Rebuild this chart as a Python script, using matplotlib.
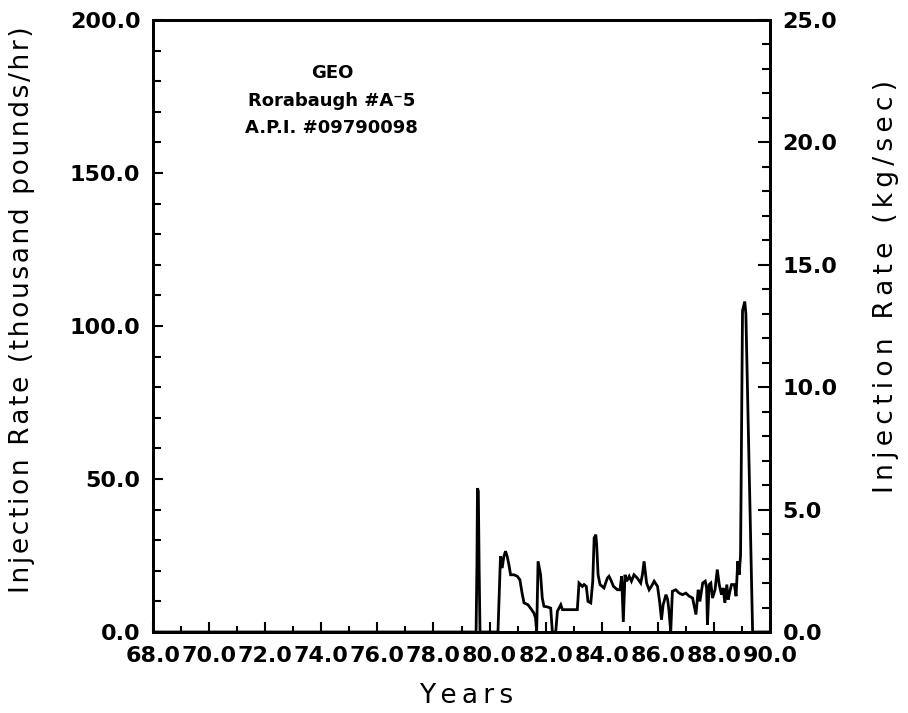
import matplotlib
matplotlib.use("Agg")
import matplotlib.pyplot as plt
from matplotlib.ticker import MultipleLocator, FormatStrFormatter

# Data: year (19xx) and injection rate (thousand pounds/hr)
years = [68.0, 79.52, 79.55, 79.57, 79.60, 79.63, 79.66, 80.30, 80.39, 80.45, 80.51, 80.57,
         80.63, 80.69, 80.75, 80.87, 80.99, 81.08, 81.17, 81.23, 81.37, 81.46, 81.58,
         81.64, 81.68, 81.73, 81.82, 81.88, 81.94, 82.06, 82.18, 82.24, 82.36, 82.42,
         82.54, 82.60, 83.13, 83.19, 83.31, 83.37, 83.45, 83.51, 83.61, 83.68, 83.73,
         83.79, 83.82, 83.87, 83.94, 84.08, 84.20, 84.26, 84.32, 84.42, 84.56, 84.65,
         84.71, 84.77, 84.83, 84.89, 84.98, 85.06, 85.15, 85.27, 85.39, 85.45, 85.51,
         85.60, 85.69, 85.77, 85.87, 85.99, 86.07, 86.13, 86.19, 86.29, 86.35, 86.40,
         86.46, 86.52, 86.64, 86.76, 86.88, 87.00, 87.12, 87.24, 87.36, 87.44, 87.50,
         87.60, 87.69, 87.74, 87.77, 87.83, 87.89, 87.95, 88.04, 88.12, 88.19, 88.27,
         88.33, 88.39, 88.46, 88.51, 88.57, 88.63, 88.73, 88.79, 88.85, 88.90, 88.95,
         89.02, 89.10, 89.14, 89.38, 90.0]
rates = [0.0, 0.0, 22.0, 47.0, 46.0, 20.0, 0.0, 0.0, 24.7, 20.9, 24.7, 26.4,
         24.7, 22.0, 18.7, 18.7, 18.2, 17.1, 12.2, 9.5, 8.9, 7.8, 6.2,
         4.6, 0.0, 23.1, 18.7, 11.1, 8.4, 8.2, 7.8, 0.0, 0.0, 6.8,
         8.9, 7.3, 7.3, 16.0, 14.9, 15.5, 14.9, 10.0, 9.5, 16.6, 30.7,
         31.8, 28.5, 18.7, 15.5, 14.4, 17.6, 18.2, 17.1, 14.9, 13.8, 13.8,
         18.2, 3.3, 18.7, 16.6, 18.2, 16.6, 18.7, 17.6, 16.0, 18.7, 23.1,
         16.0, 13.8, 14.9, 16.6, 14.9, 9.5, 4.0, 8.9, 12.2, 10.6, 6.8,
         0.0, 13.3, 13.8, 12.7, 12.2, 12.7, 11.7, 11.1, 5.7, 13.8, 10.0,
         16.0, 16.6, 14.4, 2.4, 15.5, 16.0, 11.1, 13.8, 20.4, 15.5, 12.2,
         14.4, 9.5, 15.5, 10.6, 13.3, 15.5, 15.5, 11.7, 23.1, 18.7, 25.0,
         105.0, 108.0, 104.0, 0.0, 0.0]

title_lines = ["GEO", "Rorabaugh #A\u207b5", "A.P.I. #09790098"]
left_label = "Injection Rate (thousand pounds/hr)"
right_label = "Injection Rate (kg/sec)"
x_label = "Years"

HAIR = "\u200a"
THIN = "\u2009"


def track(s, sp):
    return sp.join(s)


tick_fmt = FormatStrFormatter("%.1f")

fig = plt.figure(figsize=(9.08, 7.13), dpi=100)
ax = fig.add_axes([153/908, 1-632/713, (770-153)/908, (632-20)/713])

ax.plot(years, rates, color="black", lw=2.0, solid_joinstyle="miter")
ax.set_xlim(68, 90)
ax.set_ylim(0, 200)

ax.xaxis.set_major_locator(MultipleLocator(2))
ax.xaxis.set_minor_locator(MultipleLocator(1))
ax.yaxis.set_major_locator(MultipleLocator(50))
ax.yaxis.set_minor_locator(MultipleLocator(10))
ax.xaxis.set_major_formatter(tick_fmt)
ax.yaxis.set_major_formatter(tick_fmt)

for s in ax.spines.values():
    s.set_linewidth(2.0)

ax.tick_params(axis="both", which="both", direction="in", top=False, right=False,
               width=1.5, labelsize=16)
ax.tick_params(axis="x", which="major", length=7, pad=10)
ax.tick_params(axis="x", which="minor", length=4)
ax.tick_params(axis="y", which="major", length=7, pad=9)
ax.tick_params(axis="y", which="minor", length=6)
for lab in ax.get_xticklabels() + ax.get_yticklabels():
    lab.set_fontweight("bold")

ax2 = ax.twinx()
ax2.set_ylim(0, 25)
ax2.yaxis.set_major_locator(MultipleLocator(5))
ax2.yaxis.set_minor_locator(MultipleLocator(1))
ax2.yaxis.set_major_formatter(tick_fmt)
ax2.tick_params(axis="y", which="both", direction="in", width=1.5, labelsize=16)
ax2.tick_params(axis="y", which="major", length=9, pad=9)
ax2.tick_params(axis="y", which="minor", length=6)
for lab in ax2.get_yticklabels():
    lab.set_fontweight("bold")
for s in ax2.spines.values():
    s.set_linewidth(2.0)

ax.set_ylabel(track(left_label, HAIR), fontsize=19)
ax.yaxis.set_label_coords(-0.191, 0.526)
ax2.set_ylabel(track(right_label, THIN), fontsize=19)
ax2.yaxis.set_label_coords(1.167, 0.565)
ax.set_xlabel(track(x_label, THIN), fontsize=19)
ax.xaxis.set_label_coords(0.507, -0.083)

for i, t in enumerate(title_lines):
    ax.text(0.29, 0.913 - i*0.045, t, transform=ax.transAxes, ha="center", va="center",
            fontsize=13, fontweight="bold")

fig.savefig("out.png", dpi=100)
